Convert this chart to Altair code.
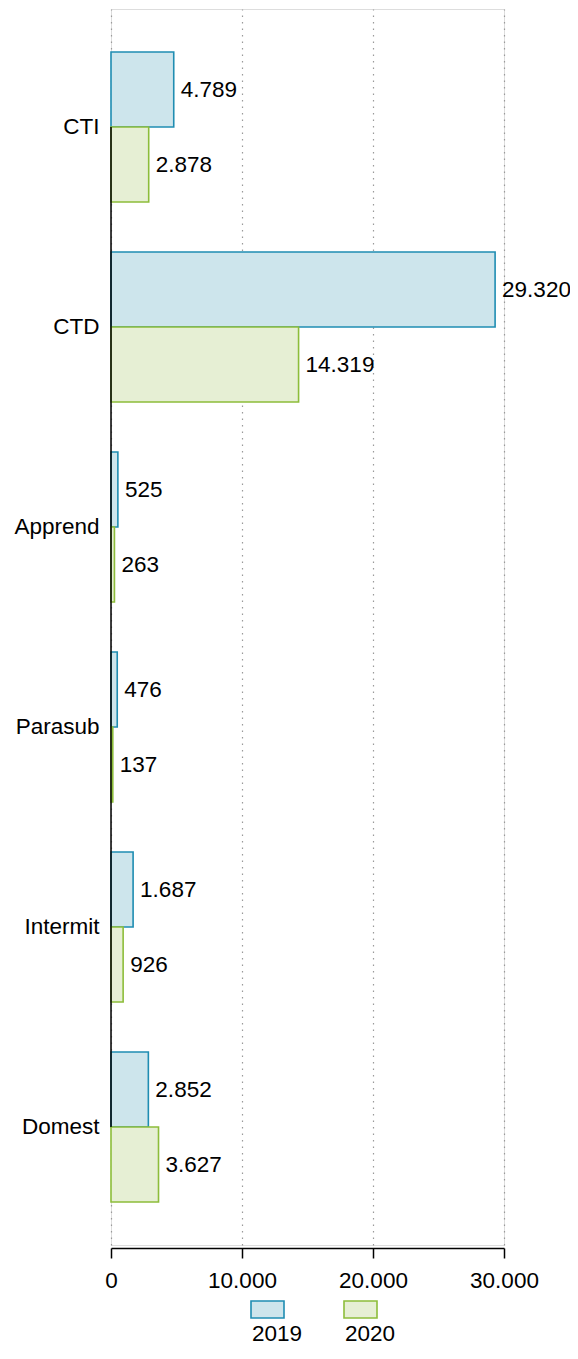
import altair as alt
import pandas as pd

categories = ["CTI", "CTD", "Apprend", "Parasub", "Intermit", "Domest"]
years = ["2019", "2020"]
values_2019 = [4789, 29320, 525, 476, 1687, 2852]
values_2020 = [2878, 14319, 263, 137, 926, 3627]
x_ticks = [0, 10000, 20000, 30000]

fill_colors = ["#cde5ec", "#e6efd4"]
stroke_colors = ["#1f8db2", "#8dbd3a"]

rows = []
for c, v19, v20 in zip(categories, values_2019, values_2020):
    rows.append({"cat": c, "year": "2019", "value": v19})
    rows.append({"cat": c, "year": "2020", "value": v20})
df = pd.DataFrame(rows)

FONT = "Liberation Sans"
FS = 22.5

y_enc = alt.Y(
    "cat:N",
    sort=categories,
    scale=alt.Scale(domain=categories, paddingInner=0.25, paddingOuter=0.215),
    axis=alt.Axis(title=None, domain=False, ticks=False, grid=False,
                  labelFontSize=FS, labelFont=FONT, labelColor="black",
                  labelPadding=12),
)
x_enc = alt.X(
    "value:Q",
    scale=alt.Scale(domain=[0, 30000], nice=False),
    axis=alt.Axis(title=None, values=x_ticks, format=",d", labelFlush=False,
                  grid=True, gridDash=[1.5, 5], gridColor="#9a9a9a", gridWidth=1.2,
                  domainColor="black", domainWidth=1.5,
                  tickColor="black", tickWidth=1.5, tickSize=10,
                  labelFontSize=FS, labelFont=FONT, labelColor="black",
                  labelPadding=11, offset=3),
)

base = alt.Chart(df)

bars = base.mark_bar(strokeWidth=1.6).encode(
    x=x_enc,
    y=y_enc,
    yOffset=alt.YOffset("year:N", sort=years),
    fill=alt.Fill("year:N", scale=alt.Scale(domain=years, range=fill_colors),
                  legend=alt.Legend(
                      title=None, orient="none", direction="horizontal",
                      legendX=139, legendY=1283,
                      symbolType="M-1,-0.515h2v1.03h-2Z", symbolSize=1089,
                      symbolStrokeWidth=1.6,
                      labelFontSize=FS, labelFont=FONT, labelColor="black",
                      labelAlign="left", labelBaseline="middle",
                      labelOffset={"expr": "-33"},
                      labelExpr="['', '', datum.label]",
                      columnPadding=37, padding=0)),
    stroke=alt.Stroke("year:N", scale=alt.Scale(domain=years, range=stroke_colors)),
)

labels = base.mark_text(align="left", baseline="middle", dx=7,
                        fontSize=FS, font=FONT, color="black").encode(
    x="value:Q",
    y=alt.Y("cat:N", sort=categories),
    yOffset=alt.YOffset("year:N", sort=years),
    text=alt.Text("value:Q", format=",d"),
)

axis_df = pd.DataFrame({"first": [categories[0]], "last": [categories[-1]]})
yrule = alt.Chart(axis_df).mark_rule(color="black", strokeWidth=1.5).encode(
    x=alt.datum(0),
    y=alt.Y("first:N", bandPosition=0.5),
    y2=alt.Y2("last:N", bandPosition=0.5),
)

chart = alt.layer(bars, labels, yrule).properties(
    width=393, height=1236,
    autosize=alt.AutoSizeParams(type="none"),
    padding={"top": 1, "left": 103, "right": 66, "bottom": 101},
).configure_view(stroke=None).configure(
    locale={"number": {"decimal": ",", "thousands": ".", "grouping": [3],
                       "currency": ["€", ""]}},
    font=FONT,
)

chart.save("out.html", embed_options={"renderer": "svg", "actions": False})
